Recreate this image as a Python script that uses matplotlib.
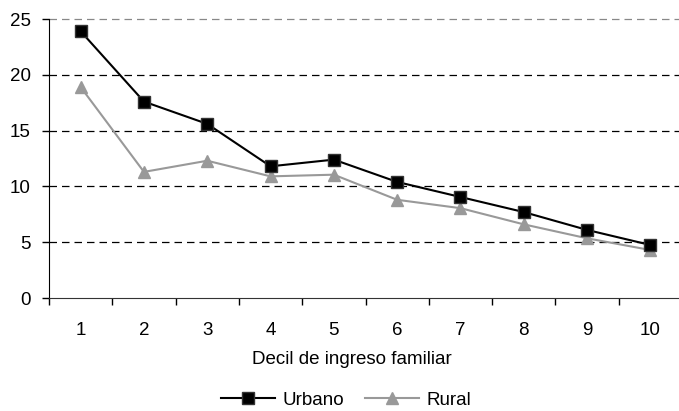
import numpy as np
import matplotlib.pyplot as plt

plt.rcParams['font.family'] = ['Liberation Sans', 'DejaVu Sans']

# dati
deciles = ['1', '2', '3', '4', '5', '6', '7', '8', '9', '10']
urbano = [23.9, 17.6, 15.6, 11.8, 12.4, 10.4, 9.05, 7.7, 6.1, 4.75]
rural = [18.9, 11.3, 12.3, 10.9, 11.05, 8.8, 8.05, 6.6, 5.35, 4.3]

W, H = 679, 411
fs = 13.5
fig = plt.figure(figsize=(W / 100, H / 100), dpi=100)
ax = fig.add_axes([49 / W, 1 - 298 / H, 633 / W, 279 / H])

x = np.arange(1, len(deciles) + 1)
ax.plot(x, urbano, color='black', lw=1.5, marker='s', ms=8,
        mfc='black', mec='#333333', label='Urbano', clip_on=False, zorder=4)
ax.plot(x, rural, color='#999999', lw=1.5, marker='^', ms=9,
        mfc='#999999', mec='#999999', label='Rural', clip_on=False, zorder=3)

ax.set_xlim(0.5, len(deciles) + 0.5)
ax.set_ylim(0, 25)
ax.set_yticks([0, 5, 10, 15, 20, 25])
ax.set_xticks(x)
ax.set_xticklabels(deciles)
ax.set_xticks(np.arange(0.5, len(deciles) + 1, 1), minor=True)
ax.tick_params(axis='x', which='major', length=0, pad=17, labelsize=fs)
ax.tick_params(axis='x', which='minor', length=5, width=1, color='black')
ax.tick_params(axis='y', length=5, width=1, labelsize=fs, pad=8)

for v in [5, 10, 15, 20, 25]:
    ax.axhline(v, color='black' if v < 25 else '#888888', lw=0.9,
               ls=(0, (6, 4)), zorder=1, clip_on=False)

for s in ['top', 'right']:
    ax.spines[s].set_visible(False)
ax.spines['left'].set_color('black')
ax.spines['bottom'].set_color('#333333')

ax.set_xlabel('Decil de ingreso familiar', fontsize=fs, labelpad=7)
ax.xaxis.set_label_coords((352 - 49) / 633, -0.19)

fig.legend(loc='center', bbox_to_anchor=(346 / W, 1 - 400 / H), ncol=2,
           frameon=False, fontsize=fs, handlelength=2.9, columnspacing=1.1,
           handletextpad=0.4)

fig.savefig('out.png', dpi=100)
